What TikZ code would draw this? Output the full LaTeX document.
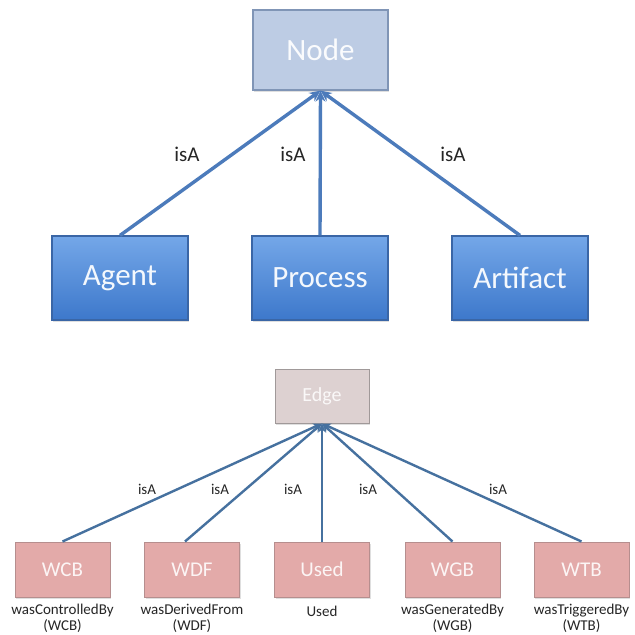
\documentclass[tikz,border=0pt]{standalone}
\usepackage{fontspec}
\setmainfont{Carlito}
\usetikzlibrary{arrows.meta,shadows}
\definecolor{linkblue}{HTML}{4C7BBB}
\definecolor{linkdark}{HTML}{46719F}
\definecolor{nodefill}{HTML}{BDCCE4}
\definecolor{nodeedge}{HTML}{8095B6}
\definecolor{bluetop}{HTML}{74A7E8}
\definecolor{bluebot}{HTML}{3D78CB}
\definecolor{blueedge}{HTML}{3A66A6}
\definecolor{edgefill}{HTML}{DDD1D1}
\definecolor{edgeedge}{HTML}{A09999}
\definecolor{pinkfill}{HTML}{E3AAA9}
\definecolor{pinkedge}{HTML}{B68E8E}
\tikzset{
  boxshadow/.style={drop shadow={opacity=0.25,shadow xshift=1pt,shadow yshift=-1.5pt}},
  rootbox/.style={draw=nodeedge,line width=1.2pt,fill=nodefill,boxshadow,
    minimum width=135pt,minimum height=80pt,text=white!92!nodefill,
    font=\fontsize{31}{34}\selectfont},
  kindbox/.style={draw=blueedge,line width=1.2pt,top color=bluetop,bottom color=bluebot,
    boxshadow,minimum width=136pt,minimum height=84pt,text=white!92!bluetop,
    font=\fontsize{31}{34}\selectfont},
  edgeroot/.style={draw=edgeedge,line width=1pt,fill=edgefill,boxshadow,
    minimum width=94pt,minimum height=54pt,text=white!85!edgefill,
    font=\fontsize{20}{22}\selectfont},
  relbox/.style={draw=pinkedge,line width=1pt,fill=pinkfill,boxshadow,
    minimum width=95pt,minimum height=55pt,text=white!88!pinkfill,
    font=\fontsize{21}{23}\selectfont},
  caption/.style={align=center,font=\fontsize{15}{16}\selectfont,text=black!85},
  isalabel/.style={font=\fontsize{21}{23}\selectfont,text=black!85},
  isasmall/.style={font=\fontsize{15}{17}\selectfont,text=black!85},
  biglink/.style={linkblue,line width=3.4pt,-{Stealth[length=11pt,width=10pt]}},
  smalllink/.style={linkdark,line width=2.4pt,-{Stealth[length=9pt,width=8pt]}},
}
\begin{document}
\begin{tikzpicture}[x=1pt,y=-1pt]
\useasboundingbox (0,0) rectangle (635,635);
\fill[white] (0,0) rectangle (635,635);

% node hierarchy
\node[rootbox] (node) at (320.5,50) {Node};
\node[kindbox] (agent) at (120,278) {Agent};
\node[kindbox] (process) at (320,278) {Process};
\node[kindbox] (artifact) at (520,278) {Artifact};

\draw[biglink] (agent.north) -- (node.south);
\draw[biglink] (process.north) -- (node.south);
\draw[biglink] (artifact.north) -- (node.south);

\node[isalabel] (isa1) at (187,154) {isA};
\node[isalabel] (isa2) at (293,154) {isA};
\node[isalabel] (isa3) at (453,154) {isA};

% edge hierarchy
\node[edgeroot] (edge) at (322,396) {Edge};
\node[relbox] (wcb) at (62.5,569.5) {WCB};
\node[relbox] (wdf) at (192,569.5) {WDF};
\node[relbox] (used) at (322,569.5) {Used};
\node[relbox] (wgb) at (452.5,569.5) {WGB};
\node[relbox] (wtb) at (581.5,569.5) {WTB};

\draw[smalllink] (wcb.north) -- (edge.south);
\draw[smalllink] ([xshift=-7pt]wdf.north) -- (edge.south);
\draw[smalllink] (used.north) -- (edge.south);
\draw[smalllink] (wgb.north) -- (edge.south);
\draw[smalllink] (wtb.north) -- (edge.south);

\node[isasmall] (isb1) at (147,489) {isA};
\node[isasmall] (isb2) at (220,489) {isA};
\node[isasmall] (isb3) at (293,489) {isA};
\node[isasmall] (isb4) at (368,489) {isA};
\node[isasmall] (isb5) at (498,489) {isA};

\node[caption] (cwcb) at (62.5,618) {wasControlledBy\\(WCB)};
\node[caption] (cwdf) at (192,618) {wasDerivedFrom\\(WDF)};
\node[caption,anchor=north] (cused) at (322,603) {Used};
\node[caption] (cwgb) at (452.5,618) {wasGeneratedBy\\(WGB)};
\node[caption] (cwtb) at (581.5,618) {wasTriggeredBy\\(WTB)};
\end{tikzpicture}
\end{document}
